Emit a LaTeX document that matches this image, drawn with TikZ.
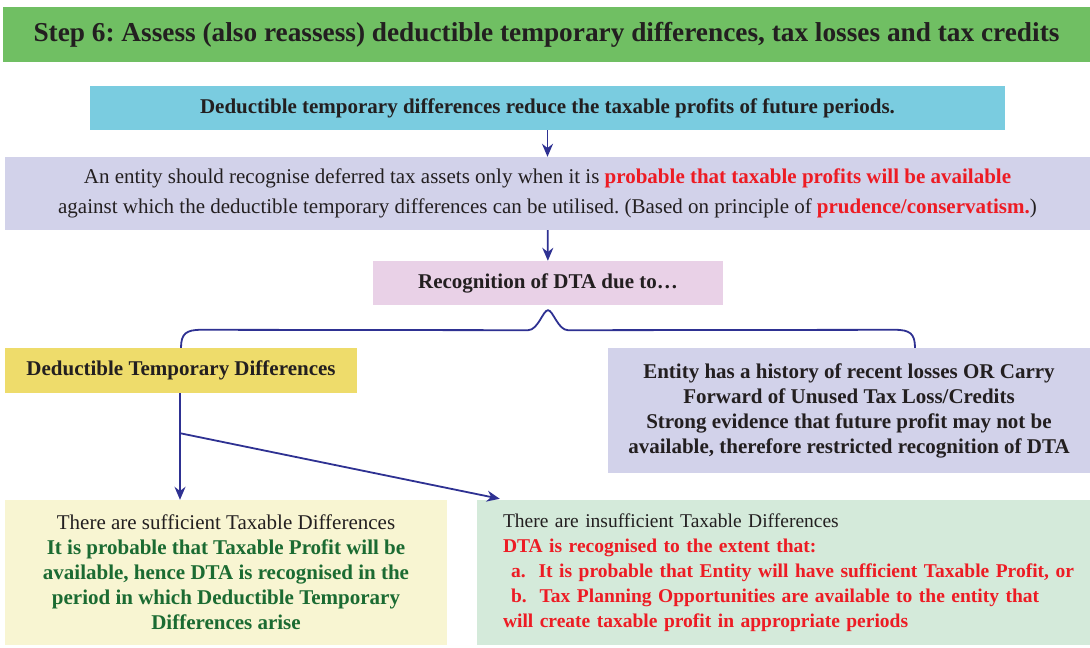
\documentclass[tikz,border=0pt]{standalone}
\usepackage{fontspec}
\setmainfont{Liberation Serif}
\usepackage{xcolor}
\usepackage{tikz}
\usetikzlibrary{arrows.meta, positioning, calc}
\definecolor{titlebg}{HTML}{70BF63}
\definecolor{bluebg}{HTML}{7ACCE0}
\definecolor{lavbg}{HTML}{D2D2EA}
\definecolor{pinkbg}{HTML}{E9D1E7}
\definecolor{yellowbg}{HTML}{EEDC6B}
\definecolor{suffbg}{HTML}{F8F5D2}
\definecolor{insuffbg}{HTML}{D4EADA}
\definecolor{hot}{HTML}{ED1C24}
\definecolor{deepgreen}{HTML}{1B6B32}
\definecolor{navy}{HTML}{2E3192}
\definecolor{ink}{HTML}{231F20}
\frenchspacing

\begin{document}
\begin{tikzpicture}[
  x=1pt, y=-1pt,
  font=\fontsize{21}{25}\selectfont, text=ink,
  box/.style={rectangle, inner sep=0pt, align=center},
  boldbox/.style={box, font=\fontsize{21}{25}\selectfont\bfseries},
  arr/.style={-{Stealth[length=13pt,width=11pt]}, navy, line width=1.8pt},
  brace/.style={navy, line width=1.8pt}
]
  \useasboundingbox (0,0) rectangle (1090,648);

  \node[box, fill=titlebg, minimum width=1087pt, minimum height=55pt,
        font=\fontsize{27.3}{30}\selectfont\bfseries] (title) at (546.5,34.5)
    {Step 6: Assess (also reassess) deductible temporary differences, tax losses and tax credits};

  \node[boldbox, fill=bluebg, minimum width=915pt, minimum height=44pt]
    (reduce) at (547.5,108)
    {Deductible temporary differences reduce the taxable profits of future periods.};

  \node[box, fill=lavbg, minimum width=1085pt, minimum height=73pt,
        font=\fontsize{21}{30}\selectfont] (probable) at (547.5,193.5)
    {An entity should recognise deferred tax assets only when it is \textcolor{hot}{\bfseries probable that taxable profits will be available}\\
     against which the deductible temporary differences can be utilised. (Based on principle of \textcolor{hot}{\bfseries prudence/conservatism.})};

  \node[boldbox, fill=pinkbg, minimum width=350pt, minimum height=44pt]
    (due) at (548,283) {Recognition of DTA due to\dots};

  \node[boldbox, fill=yellowbg, minimum width=352pt, minimum height=45pt]
    (dtd) at (181,370.5) {Deductible Temporary Differences};

  \node[boldbox, fill=lavbg, minimum width=482pt, minimum height=125pt]
    (history) at (849,410.5)
    {Entity has a history of recent losses OR Carry\\
     Forward of Unused Tax Loss/Credits\\
     Strong evidence that future profit may not be\\
     available, therefore restricted recognition of DTA};

  \node[box, fill=suffbg, minimum width=442pt, minimum height=145pt]
    (suff) at (226,572.5)
    {There are sufficient Taxable Differences\\
     \color{deepgreen}\bfseries It is probable that Taxable Profit will be\\
     \color{deepgreen}\bfseries available, hence DTA is recognised in the\\
     \color{deepgreen}\bfseries period in which Deductible Temporary\\
     \color{deepgreen}\bfseries Differences arise};

  \node[box, fill=insuffbg, minimum width=613pt, minimum height=145pt, align=left,
        text width=587pt, font=\fontsize{19.5}{25}\selectfont] (insuff) at (783.5,572.5)
    {\hspace*{13pt}There are insufficient Taxable Differences\\
     \color{hot}\bfseries\hspace*{13pt}DTA is recognised to the extent that:\\
     \color{hot}\bfseries\hspace*{21pt}a.\ \ It is probable that Entity will have sufficient Taxable Profit, or\\
     \color{hot}\bfseries\hspace*{21pt}b.\ \ Tax Planning Opportunities are available to the entity that\\
     \color{hot}\bfseries\hspace*{13pt}will create taxable profit in appropriate periods};

  \draw[arr] (reduce) -- (probable);
  \draw[arr] (probable) -- (due);

  % brace below the pink box
  \coordinate (peak) at ($(due.south)+(0,5)$);
  \coordinate (bracer) at ($(history.north)+(66,0)$);
  \draw[brace] (dtd.north) .. controls ($(dtd.north)+(0,-14)$) and ($(dtd.north)+(5,-18)$) .. ($(dtd.north)+(20,-18)$)
    -- ($(peak)+(-20,20)$) .. controls ($(peak)+(-10,20)$) and ($(peak)+(-5,0)$) .. (peak)
    .. controls ($(peak)+(5,0)$) and ($(peak)+(10,20)$) .. ($(peak)+(20,20)$)
    -- ($(bracer)+(-20,-18)$) .. controls ($(bracer)+(-5,-18)$) and ($(bracer)+(0,-14)$) .. (bracer);

  \coordinate (split) at ($(dtd.south)+(-1,40)$);
  \draw[arr] (dtd.south -| split) -- (split |- suff.north);
  \draw[arr] (split) -- ($(insuff.north west)+(23,-1)$);
\end{tikzpicture}
\end{document}
